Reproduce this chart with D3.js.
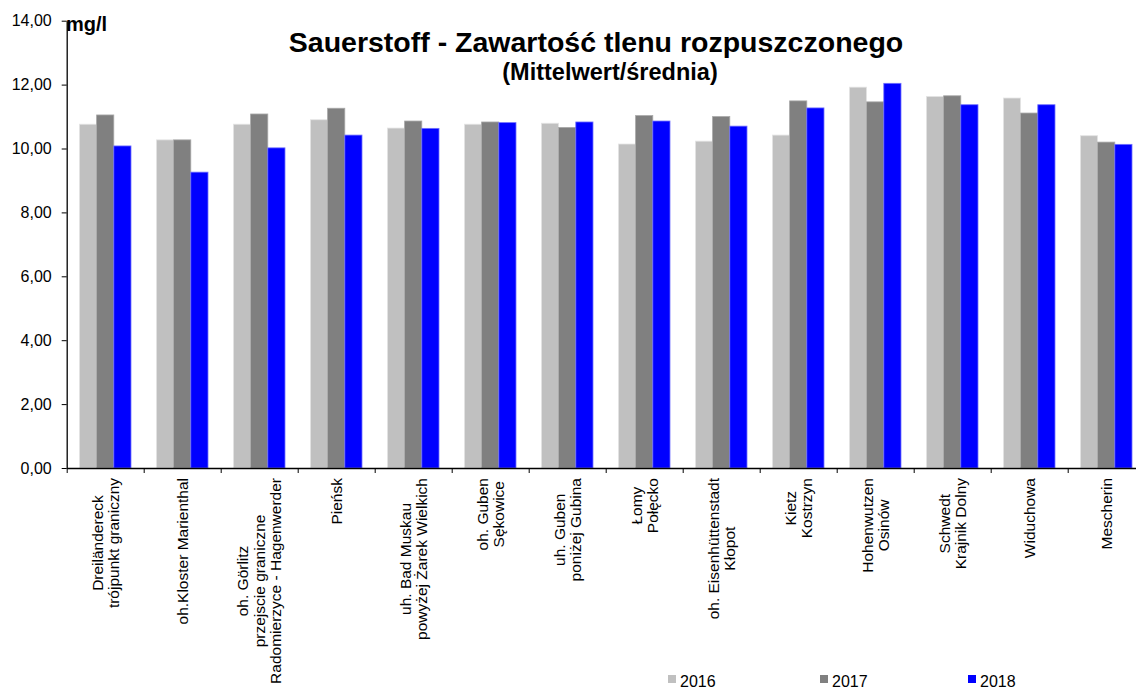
<!DOCTYPE html>
<html>
<head>
<meta charset="utf-8">
<script src="https://cdn.jsdelivr.net/npm/d3@7"></script>
<style>
  html, body { margin: 0; padding: 0; background: #fff; }
  svg { display: block; font-family: "Liberation Sans", Arial, sans-serif; }
</style>
</head>
<body>
<svg width="1136" height="689"></svg>
<script>
const stations = [
  ["Dreiländereck", "trójpunkt graniczny"],
  ["oh.Kloster Marienthal"],
  ["oh. Görlitz", "przejscie graniczne", "Radomierzyce - Hagenwerder"],
  ["Pieńsk"],
  ["uh. Bad Muskau", "powyżej Żarek Wielkich"],
  ["oh. Guben", "Sękowice"],
  ["uh. Guben", "poniżej Gubina"],
  ["Łomy", "Połęcko"],
  ["oh. Eisenhüttenstadt", "Kłopot"],
  ["Kietz", "Kostrzyn"],
  ["Hohenwutzen", "Osinów"],
  ["Schwedt", "Krajnik Dolny"],
  ["Widuchowa"],
  ["Mescherin"],
];

const years = ["2016", "2017", "2018"];

const values2016 = [10.76, 10.27, 10.76, 10.9, 10.64, 10.76, 10.79, 10.14, 10.23, 10.42, 11.92, 11.63, 11.58, 10.4];
const values2017 = [11.05, 10.27, 11.08, 11.26, 10.86, 10.83, 10.66, 11.03, 11.0, 11.49, 11.46, 11.65, 11.11, 10.2];
const values2018 = [10.08, 9.26, 10.02, 10.42, 10.63, 10.81, 10.83, 10.86, 10.7, 11.27, 12.04, 11.37, 11.37, 10.13];

const yTicks = [0, 2, 4, 6, 8, 10, 12, 14];

const colors = { "2016": "#c0c0c0", "2017": "#808080", "2018": "#0000ff" };
const edges = { "2016": "#e4e4e4", "2017": "#a8a8a8", "2018": "#6f6fff" };

const series = [values2016, values2017, values2018];

const svg = d3.select("svg");

const plotLeft = 66.7;
const plotRight = 1144.7;
const plotTop = 20.7;
const plotBottom = 468;

const y = d3.scaleLinear().domain([0, 14]).range([plotBottom, plotTop]);

const x = d3
  .scaleBand()
  .domain(d3.range(stations.length))
  .range([plotLeft, plotRight])
  .padding(0);

const inner = d3
  .scaleBand()
  .domain(years)
  .range([x.bandwidth() * 0.165, x.bandwidth() * 0.835])
  .padding(0);

// bars
const groups = svg
  .append("g")
  .selectAll("g")
  .data(stations.map((s, i) => i))
  .join("g")
  .attr("transform", (i) => `translate(${x(i)},0)`);

groups
  .selectAll("rect")
  .data((i) => years.map((yr, k) => ({ yr, v: series[k][i] })))
  .join("rect")
  .attr("x", (d) => inner(d.yr))
  .attr("y", (d) => y(d.v))
  .attr("width", inner.bandwidth())
  .attr("height", (d) => plotBottom - y(d.v))
  .attr("fill", (d) => colors[d.yr])
  .attr("stroke", (d) => edges[d.yr])
  .attr("stroke-width", 0.8);

// y axis
const yAxis = svg
  .append("g")
  .attr("transform", `translate(${plotLeft},0)`)
  .call(
    d3
      .axisLeft(y)
      .tickValues(yTicks)
      .tickFormat((d) => d.toFixed(2).replace(".", ","))
      .tickSize(5)
      .tickSizeOuter(0)
      .tickPadding(10),
  );
yAxis.select(".domain").attr("stroke", "#000").attr("stroke-width", 1.3);
yAxis.selectAll(".tick line").attr("stroke", "#000");
yAxis
  .selectAll(".tick text")
  .attr("font-family", "Liberation Sans, Arial, sans-serif")
  .attr("font-size", 16)
  .attr("fill", "#000");

// x axis with ticks between categories
const xEdges = d3.scaleLinear().domain([0, stations.length]).range([plotLeft, plotRight]);
const xAxis = svg
  .append("g")
  .attr("transform", `translate(0,${plotBottom})`)
  .call(
    d3
      .axisBottom(xEdges)
      .tickValues(d3.range(stations.length + 1))
      .tickFormat("")
      .tickSize(5)
      .tickSizeOuter(0),
  );
xAxis.select(".domain").attr("stroke", "#000").attr("stroke-width", 1.3);
xAxis.selectAll(".tick line").attr("stroke", "#000");

// rotated category labels, lines centred on the longest one
const labelTop = 478;
const lineGap = 16.5;
const labels = svg
  .append("g")
  .selectAll("g")
  .data(stations)
  .join("g")
  .attr("transform", (d, i) => `translate(${x(i) + x.bandwidth() / 2},${labelTop}) rotate(-90)`);

labels.each(function (lines) {
  const g = d3.select(this);
  const n = lines.length;
  const texts = g
    .selectAll("text")
    .data(lines)
    .join("text")
    .attr("font-size", 15.5)
    .attr("fill", "#000")
    .attr("text-anchor", "middle")
    .attr("y", (d, k) => (k - (n - 1) / 2) * lineGap + 5.6)
    .text((d) => d);
  const maxLen = d3.max(texts.nodes(), (t) => t.getComputedTextLength());
  texts.attr("x", -maxLen / 2);
});

// titles
svg
  .append("text")
  .attr("x", 596)
  .attr("y", 52)
  .attr("text-anchor", "middle")
  .attr("font-size", 28.5)
  .attr("font-weight", "bold")
  .text("Sauerstoff - Zawartość tlenu rozpuszczonego");

svg
  .append("text")
  .attr("x", 610)
  .attr("y", 80)
  .attr("text-anchor", "middle")
  .attr("font-size", 23.5)
  .attr("font-weight", "bold")
  .text("(Mittelwert/średnia)");

svg
  .append("text")
  .attr("x", 66)
  .attr("y", 31)
  .attr("font-size", 20)
  .attr("font-weight", "bold")
  .text("mg/l");

// legend
const legendX = [668, 820, 968];
const legend = svg
  .append("g")
  .selectAll("g")
  .data(years)
  .join("g")
  .attr("transform", (d, i) => `translate(${legendX[i]},675)`);

legend
  .append("rect")
  .attr("width", 8)
  .attr("height", 8)
  .attr("fill", (d) => colors[d]);

legend
  .append("text")
  .attr("x", 12)
  .attr("y", 11.5)
  .attr("font-size", 16)
  .text((d) => d);
</script>
</body>
</html>
